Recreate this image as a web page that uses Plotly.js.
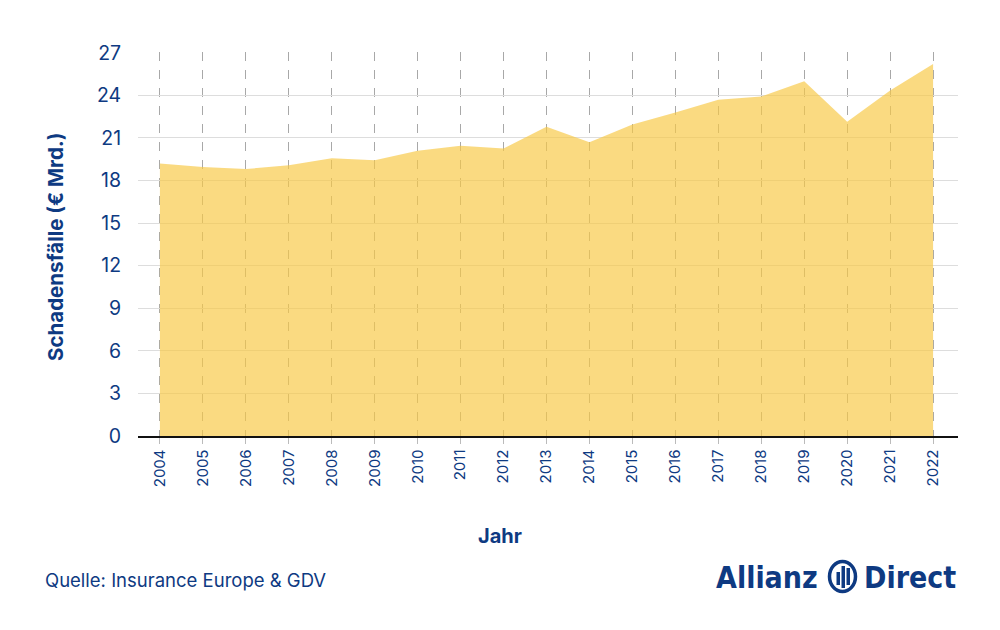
<!DOCTYPE html>
<html><head><meta charset="utf-8">
<script src="https://cdn.plot.ly/plotly-3.0.1.min.js"></script>
<style>html,body{margin:0;padding:0;background:#fff}#chart{width:1000px;height:630px}</style>
</head><body><div id="chart"></div>
<script>
const years = [2004,2005,2006,2007,2008,2009,2010,2011,2012,2013,2014,2015,2016,2017,2018,2019,2020,2021,2022];
const claims = [19.2,18.95,18.8,19.08,19.57,19.43,20.09,20.44,20.25,21.78,20.7,21.94,22.78,23.68,23.91,24.99,22.13,24.33,26.2];
const yTicks = [0,3,6,9,12,15,18,21,24,27];
const yTitle = 'Schadensfälle (€ Mrd.)';
const xTitle = 'Jahr';
const source = 'Quelle: Insurance Europe & GDV';

const navy = '#0e3a82';
const font = 'Inter, "Open Sans", sans-serif';
const logoFont = '"Liberation Sans Narrow", "DejaVu Sans Condensed", sans-serif';
// paper mapping helpers for pixel-positioned decorations
const L=138, R=958, T=52, B=436;
const px = x => (x-L)/(R-L);
const py = y => (B-y)/(B-T);

const trace = {
  x: years, y: claims, type:'scatter', mode:'lines',
  fill:'tozeroy', fillcolor:'rgba(248,200,70,0.68)',
  line:{width:0, color:'rgba(248,200,70,0)'}, hoverinfo:'x+y'
};

const shapes = [
  {type:'circle', xref:'paper', yref:'paper', x0:px(829.5), x1:px(855.5), y0:py(591.5), y1:py(561.5), line:{color:navy,width:3.5}},
  {type:'rect', xref:'paper', yref:'paper', x0:px(836.5), x1:px(840), y0:py(585), y1:py(572), fillcolor:navy, line:{width:0}},
  {type:'rect', xref:'paper', yref:'paper', x0:px(841.5), x1:px(845), y0:py(588), y1:py(566), fillcolor:navy, line:{width:0}},
  {type:'rect', xref:'paper', yref:'paper', x0:px(846.5), x1:px(850), y0:py(585), y1:py(568), fillcolor:navy, line:{width:0}}
];

const layout = {
  width:1000, height:630,
  margin:{l:L, r:1000-R, t:T, b:630-B},
  paper_bgcolor:'#fff', plot_bgcolor:'#fff',
  showlegend:false,
  font:{family:font, color:navy},
  xaxis:{
    range:[2003.49, 2022.58], tickmode:'array', tickvals:years, ticktext:years.map(String),
    tickangle:-90, tickfont:{size:15, color:navy, family:font},
    showgrid:true, gridcolor:'#a8a8a8', griddash:'dash', gridwidth:1,
    ticks:'outside', ticklen:6, tickcolor:'#bbbbbb', tickwidth:1,
    showline:true, linecolor:'#111', linewidth:1.5, zeroline:false,
    layer:'above traces'
  },
  yaxis:{
    range:[0,27.05], tickmode:'array', tickvals:yTicks,
    tickfont:{size:19.5, color:navy, family:font},
    showgrid:true, gridcolor:'#dddddd', gridwidth:1,
    ticks:'outside', ticklen:12, tickcolor:'rgba(0,0,0,0)',
    zeroline:false, showline:false
  },
  shapes: shapes,
  annotations:[
    {text:yTitle, xref:'paper', yref:'paper', x:px(55), y:py(247), textangle:-90, showarrow:false,
     font:{size:20.5, color:navy, family:font, weight:700}, xanchor:'center', yanchor:'middle'},
    {text:xTitle, xref:'paper', yref:'paper', x:px(500), y:py(536), showarrow:false,
     font:{size:20, color:navy, family:font, weight:700}, xanchor:'center', yanchor:'middle'},
    {text:source, xref:'paper', yref:'paper', x:px(43), y:py(580), showarrow:false,
     font:{size:18.5, color:navy, family:font}, xanchor:'left', yanchor:'middle'},
    {text:'<b>Allianz</b>', xref:'paper', yref:'paper', x:px(820), y:py(577), showarrow:false,
     font:{size:30, color:navy, family:logoFont}, xanchor:'right', yanchor:'middle'},
    {text:'<b>Direct</b>', xref:'paper', yref:'paper', x:px(958), y:py(577), showarrow:false,
     font:{size:30, color:navy, family:logoFont}, xanchor:'right', yanchor:'middle'}
  ]
};

Plotly.newPlot('chart', [trace], layout, {displayModeBar:false, staticPlot:true});
</script></body></html>
